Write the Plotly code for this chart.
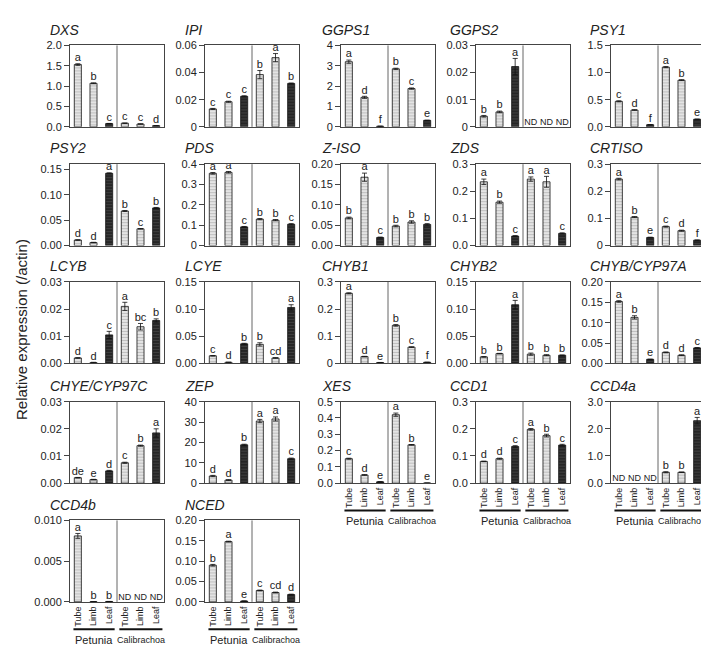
import plotly.graph_objects as go

W, H = 709, 647

tissues = ["Tube", "Limb", "Leaf", "Tube", "Limb", "Leaf"]
species = ["Petunia", "Calibrachoa"]
y_title = "Relative expression (/actin)"

genes = ["DXS", "IPI", "GGPS1", "GGPS2", "PSY1",
         "PSY2", "PDS", "Z-ISO", "ZDS", "CRTISO",
         "LCYB", "LCYE", "CHYB1", "CHYB2", "CHYB/CYP97A",
         "CHYE/CYP97C", "ZEP", "XES", "CCD1", "CCD4a",
         "CCD4b", "NCED"]

dxs_v = [1.53, 1.07, 0.08, 0.09, 0.07, 0.03]
dxs_e = [0.02, 0.01, 0.005, 0.005, 0.005, 0.003]
dxs_s = ["a", "b", "c", "c", "c", "d"]
dxs_t = ["0.0", "0.5", "1.0", "1.5", "2.0"]

ipi_v = [0.0132, 0.0185, 0.0225, 0.0385, 0.051, 0.032]
ipi_e = [0.0004, 0.0004, 0.0004, 0.003, 0.003, 0.0003]
ipi_s = ["c", "c", "c", "b", "a", "b"]
ipi_t = ["0", "0.02", "0.04", "0.06"]

ggps1_v = [3.2, 1.45, 0.03, 2.85, 1.88, 0.32]
ggps1_e = [0.08, 0.05, 0.01, 0.03, 0.03, 0.01]
ggps1_s = ["a", "d", "f", "b", "c", "e"]
ggps1_t = ["0", "1", "2", "3", "4"]

ggps2_v = [0.0039, 0.0055, 0.0222, None, None, None]
ggps2_e = [0.0003, 0.0003, 0.003, 0, 0, 0]
ggps2_s = ["b", "b", "a", "ND", "ND", "ND"]
ggps2_t = ["0", "0.01", "0.02", "0.03"]

psy1_v = [0.47, 0.31, 0.04, 1.10, 0.86, 0.14]
psy1_e = [0.01, 0.005, 0.003, 0.01, 0.008, 0.005]
psy1_s = ["c", "d", "f", "a", "b", "e"]
psy1_t = ["0.0", "0.5", "1.0", "1.5"]

psy2_v = [0.011, 0.006, 0.142, 0.068, 0.033, 0.074]
psy2_e = [0.0005, 0.0005, 0.001, 0.001, 0.0005, 0.001]
psy2_s = ["d", "d", "a", "b", "c", "b"]
psy2_t = ["0.00", "0.05", "0.10", "0.15"]

pds_v = [0.355, 0.36, 0.092, 0.13, 0.125, 0.105]
pds_e = [0.004, 0.004, 0.002, 0.003, 0.003, 0.003]
pds_s = ["a", "a", "c", "b", "b", "c"]
pds_t = ["0", "0.1", "0.2", "0.3", "0.4"]

ziso_v = [0.068, 0.168, 0.02, 0.048, 0.058, 0.052]
ziso_e = [0.002, 0.01, 0.001, 0.002, 0.003, 0.002]
ziso_s = ["b", "a", "c", "b", "b", "b"]
ziso_t = ["0.00", "0.05", "0.10", "0.15", "0.20"]

zds_v = [0.235, 0.16, 0.035, 0.245, 0.235, 0.045]
zds_e = [0.01, 0.004, 0.002, 0.008, 0.02, 0.002]
zds_s = ["a", "b", "c", "a", "a", "c"]
zds_t = ["0.0", "0.1", "0.2", "0.3"]

crtiso_v = [0.245, 0.105, 0.03, 0.07, 0.055, 0.02]
crtiso_e = [0.003, 0.002, 0.001, 0.002, 0.002, 0.001]
crtiso_s = ["a", "b", "e", "c", "d", "f"]
crtiso_t = ["0", "0.1", "0.2", "0.3"]

lcyb_v = [0.002, 0.0003, 0.0105, 0.021, 0.0135, 0.0158]
lcyb_e = [0.0001, 0.0001, 0.0013, 0.0015, 0.0012, 0.0006]
lcyb_s = ["d", "d", "c", "a", "bc", "b"]
lcyb_t = ["0.00", "0.01", "0.02", "0.03"]

lcye_v = [0.014, 0.002, 0.036, 0.035, 0.01, 0.103]
lcye_e = [0.0005, 0.0002, 0.001, 0.003, 0.0005, 0.005]
lcye_s = ["c", "d", "b", "b", "cd", "a"]
lcye_t = ["0.00", "0.05", "0.10", "0.15"]

chyb1_v = [0.258, 0.025, 0.003, 0.14, 0.06, 0.004]
chyb1_e = [0.002, 0.001, 0.0005, 0.003, 0.001, 0.0005]
chyb1_s = ["a", "d", "e", "b", "c", "f"]
chyb1_t = ["0", "0.1", "0.2", "0.3"]

chyb2_v = [0.012, 0.018, 0.108, 0.017, 0.015, 0.015]
chyb2_e = [0.0005, 0.0005, 0.008, 0.002, 0.001, 0.0005]
chyb2_s = ["b", "b", "a", "b", "b", "b"]
chyb2_t = ["0.00", "0.05", "0.10", "0.15"]

cyp97a_v = [0.152, 0.113, 0.01, 0.027, 0.02, 0.038]
cyp97a_e = [0.002, 0.004, 0.0005, 0.001, 0.001, 0.001]
cyp97a_s = ["a", "b", "e", "d", "d", "c"]
cyp97a_t = ["0.00", "0.05", "0.10", "0.15", "0.20"]

cyp97c_v = [0.002, 0.0013, 0.0045, 0.0075, 0.0138, 0.0185]
cyp97c_e = [0.0001, 0.0001, 0.0002, 0.0002, 0.0002, 0.0015]
cyp97c_s = ["de", "e", "d", "c", "b", "a"]
cyp97c_t = ["0.00", "0.01", "0.02", "0.03"]

zep_v = [3.5, 1.5, 18.8, 30.5, 31.5, 12.0]
zep_e = [0.3, 0.2, 0.3, 0.8, 1.0, 0.3]
zep_s = ["d", "d", "b", "a", "a", "c"]
zep_t = ["0", "10", "20", "30", "40"]

xes_v = [0.15, 0.05, 0.008, 0.42, 0.235, 0.0]
xes_e = [0.003, 0.002, 0.001, 0.01, 0.002, 0.0]
xes_s = ["c", "d", "e", "a", "b", "e"]
xes_t = ["0.0", "0.1", "0.2", "0.3", "0.4", "0.5"]

ccd1_v = [0.08, 0.09, 0.135, 0.198, 0.175, 0.14]
ccd1_e = [0.001, 0.002, 0.003, 0.003, 0.005, 0.003]
ccd1_s = ["d", "d", "c", "a", "b", "c"]
ccd1_t = ["0.0", "0.1", "0.2", "0.3"]

ccd4a_v = [None, None, None, 0.4, 0.4, 2.3]
ccd4a_e = [0, 0, 0, 0.02, 0.01, 0.12]
ccd4a_s = ["ND", "ND", "ND", "b", "b", "a"]
ccd4a_t = ["0.0", "1.0", "2.0", "3.0"]

ccd4b_v = [0.0081, 0.00003, 0.00005, None, None, None]
ccd4b_e = [0.0003, 0.0, 0.0, 0, 0, 0]
ccd4b_s = ["a", "b", "b", "ND", "ND", "ND"]
ccd4b_t = ["0.000", "0.005", "0.010"]

nced_v = [0.09, 0.148, 0.002, 0.028, 0.023, 0.018]
nced_e = [0.002, 0.001, 0.0003, 0.001, 0.001, 0.001]
nced_s = ["b", "a", "e", "c", "cd", "d"]
nced_t = ["0.00", "0.05", "0.10", "0.15", "0.20"]

values = [dxs_v, ipi_v, ggps1_v, ggps2_v, psy1_v, psy2_v, pds_v, ziso_v, zds_v, crtiso_v,
          lcyb_v, lcye_v, chyb1_v, chyb2_v, cyp97a_v, cyp97c_v, zep_v, xes_v, ccd1_v, ccd4a_v,
          ccd4b_v, nced_v]
errors = [dxs_e, ipi_e, ggps1_e, ggps2_e, psy1_e, psy2_e, pds_e, ziso_e, zds_e, crtiso_e,
          lcyb_e, lcye_e, chyb1_e, chyb2_e, cyp97a_e, cyp97c_e, zep_e, xes_e, ccd1_e, ccd4a_e,
          ccd4b_e, nced_e]
letters = [dxs_s, ipi_s, ggps1_s, ggps2_s, psy1_s, psy2_s, pds_s, ziso_s, zds_s, crtiso_s,
           lcyb_s, lcye_s, chyb1_s, chyb2_s, cyp97a_s, cyp97c_s, zep_s, xes_s, ccd1_s, ccd4a_s,
           ccd4b_s, nced_s]
ticks = [dxs_t, ipi_t, ggps1_t, ggps2_t, psy1_t, psy2_t, pds_t, ziso_t, zds_t, crtiso_t,
         lcyb_t, lcye_t, chyb1_t, chyb2_t, cyp97a_t, cyp97c_t, zep_t, xes_t, ccd1_t, ccd4a_t,
         ccd4b_t, nced_t]
# axis maxima (same as the top tick except PSY2)
ymax = [float(t[-1]) for t in ticks]
ymax[5] = 0.16

# ---------- layout geometry (pixels) ----------
col_left = [62, 197, 333, 468, 603]
col_title = [40, 175, 312, 440, 580]
row_top = [32, 153, 273, 395, 516]
PW, PH = 94, 83
labelled = {17: 0, 18: 0, 19: 0, 20: 1, 21: 1}  # panels with x tick labels

FONT = "Liberation Sans, Arial, sans-serif"
TXT = "#222222"
LIGHT_BG, LIGHT_FG = "#e4e4e4", "#9a9a9a"
DARK_BG, DARK_FG = "#262626", "#5a5a5a"

fig = go.Figure()
shapes, annotations = [], []
layout = dict(width=W, height=H, margin=dict(l=0, r=0, t=0, b=0),
              paper_bgcolor="white", plot_bgcolor="white", showlegend=False,
              font=dict(family=FONT, size=11, color=TXT))


def px_x(x):
    return x / W


def px_y(y):
    return 1 - y / H


for i, g in enumerate(genes):
    r, c = divmod(i, 5)
    n = i + 1
    xs = "x" if n == 1 else f"x{n}"
    ys = "y" if n == 1 else f"y{n}"
    xa = "xaxis" if n == 1 else f"xaxis{n}"
    ya = "yaxis" if n == 1 else f"yaxis{n}"
    left, top = col_left[c], row_top[r]
    vals = values[i]
    errs = errors[i]
    pos = [1, 2, 3, 4, 5, 6]
    for grp, idxs in (("light", [0, 1, 3, 4]), ("dark", [2, 5])):
        bg = LIGHT_BG if grp == "light" else DARK_BG
        fg = LIGHT_FG if grp == "light" else DARK_FG
        xv = [pos[k] for k in idxs if vals[k] is not None]
        yv = [vals[k] for k in idxs if vals[k] is not None]
        ev = [errs[k] for k in idxs if vals[k] is not None]
        if not xv:
            continue
        fig.add_trace(go.Bar(
            x=xv, y=yv, xaxis=xs, yaxis=ys, width=0.45,
            marker=dict(color=bg, line=dict(color="#111111", width=0.8),
                        pattern=dict(shape="-", bgcolor=bg, fgcolor=fg, size=3, solidity=0.35)),
            error_y=dict(type="data", array=ev, color="#111111", thickness=0.8, width=2.5),
            hoverinfo="skip"))
    # significance letters (text trace)
    lx, ly, lt = [], [], []
    nx, nt = [], []
    for k in range(6):
        if vals[k] is None:
            nx.append(pos[k]); nt.append(letters[i][k])
        else:
            lx.append(pos[k]); ly.append(vals[k] + errs[k]); lt.append(letters[i][k])
    fig.add_trace(go.Scatter(x=lx, y=ly, text=lt, mode="text", textposition="top center",
                             textfont=dict(size=11, color=TXT, family=FONT),
                             xaxis=xs, yaxis=ys, hoverinfo="skip", cliponaxis=False))
    if nx:
        fig.add_trace(go.Scatter(x=nx, y=[0] * len(nx), text=nt, mode="text",
                                 textposition="top center",
                                 textfont=dict(size=9, color=TXT, family=FONT),
                                 xaxis=xs, yaxis=ys, hoverinfo="skip", cliponaxis=False))
    tv = [float(t) for t in ticks[i]]
    layout[xa] = dict(domain=[px_x(left), px_x(left + PW)], anchor=ys, range=[0.5, 6.5],
                      showline=True, mirror=True, linecolor="#444444", linewidth=1,
                      showgrid=False, zeroline=False, ticks="", fixedrange=True,
                      tickmode="array", tickvals=pos, ticktext=tissues,
                      showticklabels=(i in labelled), tickangle=-90,
                      tickfont=dict(size=9, color=TXT))
    layout[ya] = dict(domain=[px_y(top + PH), px_y(top)], anchor=xs, range=[0, ymax[i]],
                      showline=True, mirror=True, linecolor="#444444", linewidth=1,
                      showgrid=False, zeroline=False, ticks="outside", ticklen=5,
                      tickcolor="#444444", tickmode="array", tickvals=tv, ticktext=ticks[i],
                      tickfont=dict(size=11, color=TXT), fixedrange=True)
    # divider between species
    shapes.append(dict(type="line", xref=xs, yref=f"{ys} domain", x0=3.5, x1=3.5, y0=0, y1=1,
                       line=dict(color="#666666", width=1)))
    # gene title
    annotations.append(dict(text=f"<i>{g}</i>", xref="paper", yref="paper",
                            x=px_x(col_title[c]), y=px_y(top - 16), xanchor="left", yanchor="middle",
                            showarrow=False, font=dict(size=14, color=TXT)))
    # species grouping under x labels
    if i in labelled:
        line_y = top + PH + 28
        lab_y = line_y + 11
        for sp, (a, b), fs in ((species[0], (0.72, 3.35), 11), (species[1], (3.65, 6.4), 9)):
            shapes.append(dict(type="line", xref=xs, yref="paper", x0=a, x1=b,
                               y0=px_y(line_y), y1=px_y(line_y), line=dict(color="#111111", width=2)))
            annotations.append(dict(text=sp, xref=xs, yref="paper", x=(a + b) / 2,
                                    y=px_y(lab_y), xanchor="center", yanchor="middle",
                                    showarrow=False, font=dict(size=fs, color=TXT)))

annotations.append(dict(text=y_title, xref="paper", yref="paper", x=px_x(13), y=px_y(322),
                        xanchor="center", yanchor="middle", textangle=-90, showarrow=False,
                        font=dict(size=15, color=TXT)))

layout["shapes"] = shapes
layout["annotations"] = annotations
fig.update_layout(**layout)
fig.write_html("out.html")
